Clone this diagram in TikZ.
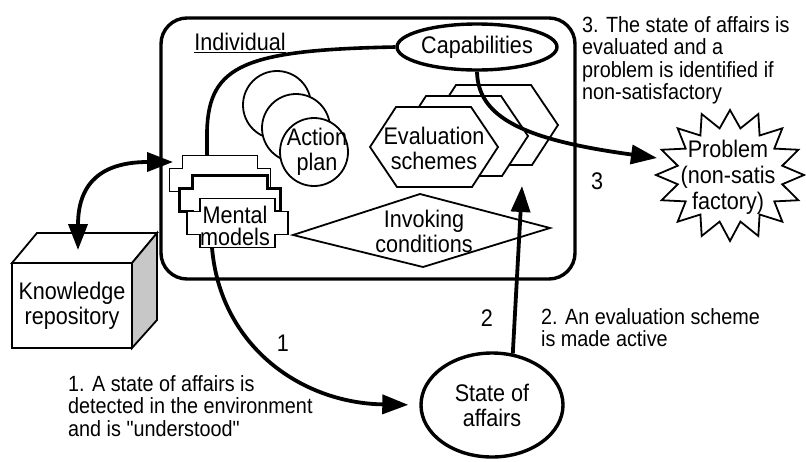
\documentclass[tikz,border=0pt]{standalone}
\usepackage{fontspec}
\setmainfont{Liberation Sans}[FakeStretch=0.9, Ligatures=TeXOff]
\usetikzlibrary{arrows.meta,shapes.geometric}

\tikzset{
  lbl/.style={font=\fontsize{24}{25}\selectfont, align=center, inner sep=0pt},
  note/.style={font=\fontsize{22}{22.6}\selectfont, align=left, anchor=north west, inner sep=0pt},
  thinline/.style={line width=1.8pt, draw=black, fill=white, line join=miter},
  heavy/.style={line width=3.4pt, draw=black},
  flow/.style={line width=3.8pt, -{Triangle[length=26pt,width=19pt]}},
  flowboth/.style={line width=3.8pt, {Triangle[length=26pt,width=19pt]}-{Triangle[length=26pt,width=19pt]}},
}

% stepped card used for the stack of mental models
\newcommand\mmstep[3]{%
  \draw[#3, shift={(#1,#2)}] (-37.5,-24.5) -- (37.5,-24.5) -- (37.5,-11.5) -- (50.5,-11.5)
    -- (50.5,11.5) -- (37.5,11.5) -- (37.5,24.5) -- (-37.5,24.5) -- (-37.5,11.5)
    -- (-50.5,11.5) -- (-50.5,-11.5) -- (-37.5,-11.5) -- cycle;}

\begin{document}
\begin{tikzpicture}[x=1pt,y=-1pt]
\useasboundingbox (0,0) rectangle (806,461);
\fill[white] (0,0) rectangle (806,461);

% the individual
\draw[heavy, rounded corners=26pt] (161,18) rectangle (575,279);
\node[lbl] (indiv) at (240,43) {\underline{Individual}};

% action plans
\foreach \cx/\cy in {277/105, 296/128, 314/152}
  \draw[thinline] (\cx,\cy) circle[radius=34pt];
\node[lbl] (action) at (317,152) {Action\\plan};

% evaluation schemes
\foreach \dx/\dy in {60/-22, 30/-11, 0/0}
  \draw[thinline, shift={({434+\dx},{147+\dy})}]
    (-64,0) -- (-38,-40) -- (37,-40) -- (64,0) -- (38,40) -- (-37,40) -- cycle;
\node[lbl] (evals) at (434,148) {Evaluation\\schemes};

% invoking conditions
\draw[thinline] (293,235) -- (420,194) -- (550,228) -- (423,267) -- cycle;
\node[lbl] (invoke) at (424,231) {Invoking\\conditions};

% mental models
\mmstep{220}{180}{thinline}
\mmstep{229.5}{200}{thinline, line width=3pt}
\mmstep{237.5}{223}{thinline}
\node[lbl, font=\fontsize{24}{22}\selectfont] (mm) at (235,226) {Mental\\models};
\coordinate (mmtop) at (207,155.5);
\coordinate (mmbot) at (212,247.5);
\coordinate (mmleft) at (173,162);

% capabilities
\node[ellipse, heavy, fill=white, minimum width=160pt, minimum height=46pt, lbl] (cap) at (477,47) {Capabilities};

% knowledge repository
\draw[thinline] (12,263) -- (37,233) -- (157,233) -- (132,263) -- cycle;
\draw[thinline, fill=black!22] (132,263) -- (157,233) -- (157,320) -- (132,348) -- cycle;
\node[draw, line width=1.8pt, fill=white, minimum width=120pt, minimum height=85pt, lbl] (kr) at (72,305.5) {Knowledge\\repository};
\coordinate (krtop) at (78,250);

% state of affairs
\node[ellipse, heavy, fill=white, minimum width=142pt, minimum height=104pt, lbl] (soa) at (492,405) {State of\\affairs};

% problem
\draw[thinline] (730,110) \foreach \i in {1,...,31} {
  -- ({730+74*(1-0.28*mod(\i,2))*cos(90+11.25*\i)}, {175-66*(1-0.28*mod(\i,2))*sin(90+11.25*\i)}) } -- cycle;
\node[lbl, font=\fontsize{24}{26}\selectfont] (prob) at (728,177) {Problem\\(non-satis\\factory)};
\coordinate (probtip) at (657,158);
\coordinate (evalin) at (522,186);

% connectors
\draw[line width=3.6pt] (mmtop) -- ++(0,-25) .. controls (209,65) and (245,50) .. (cap.west);
\draw[flowboth] (krtop) .. controls (78,180) and (105,162) .. (mmleft);
\draw[flow, shorten >=11pt] (mmbot) .. controls (220,345) and (300,403) .. (soa.west);
\draw[flow] (soa.68) -- (evalin);
\draw[flow] (cap.south) .. controls (478,118) and (525,140) .. (probtip);

% step numbers
\node[lbl] (n1) at (283,343) {1};
\node[lbl] (n2) at (487,318) {2};
\node[lbl] (n3) at (597,181) {3};

% notes
\node[note] (a3) at (582,16) {3. The state of affairs is\\evaluated and a\\problem is identified if\\non-satisfactory};
\node[note] (a2) at (541,308) {2. An evaluation scheme\\is made active};
\node[note] (a1) at (68,375) {1. A state of affairs is\\detected in the environment\\and is "understood"};
\end{tikzpicture}
\end{document}
